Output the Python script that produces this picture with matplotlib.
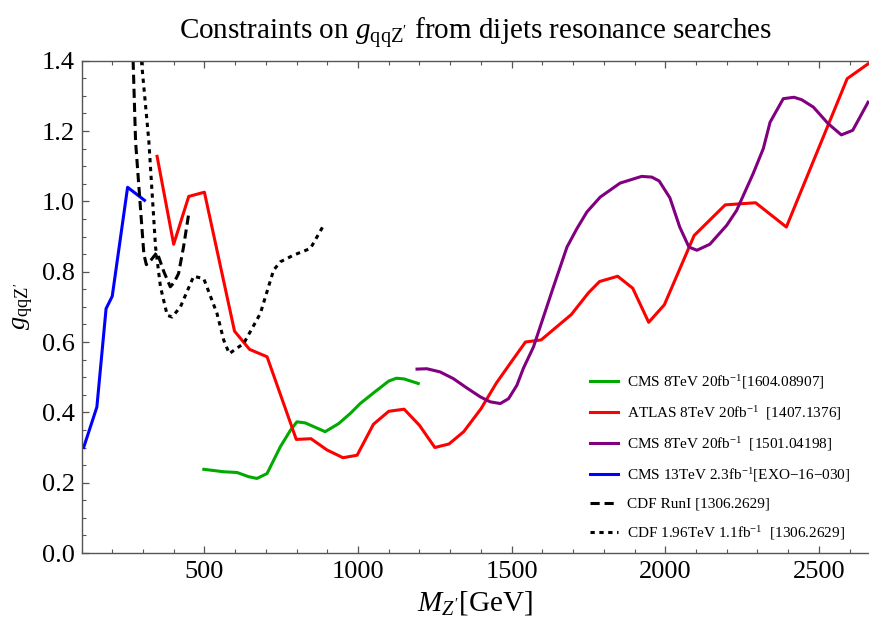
import matplotlib
matplotlib.use("Agg")
import matplotlib.pyplot as plt
from matplotlib.ticker import MultipleLocator, FormatStrFormatter

plt.rcParams['font.family'] = ['Liberation Serif', 'DejaVu Serif']
plt.rcParams['mathtext.fontset'] = 'custom'
plt.rcParams['mathtext.rm'] = 'Liberation Serif'
plt.rcParams['mathtext.it'] = 'Liberation Serif:italic'
plt.rcParams['mathtext.bf'] = 'Liberation Serif:bold'

# ---- data ----
cms8_1604_x = [498, 563, 606, 644, 671, 704, 747, 780, 801, 828, 893, 937, 975, 1007, 1050, 1100, 1125, 1150, 1196]
cms8_1604_y = [0.238, 0.231, 0.229, 0.217, 0.212, 0.226, 0.302, 0.349, 0.373, 0.370, 0.345, 0.368, 0.397, 0.425, 0.455, 0.489, 0.497, 0.495, 0.482]

atlas_x = [346, 400, 449, 500, 598, 647, 704, 799, 847, 899, 951, 997, 1050, 1100, 1150, 1200, 1250, 1296, 1344,
           1400, 1450, 1500, 1545, 1596, 1694, 1750, 1786, 1845, 1894, 1946, 1997, 2094, 2195, 2294, 2394, 2592, 2660]
atlas_y = [1.128, 0.878, 1.014, 1.026, 0.631, 0.579, 0.558, 0.323, 0.325, 0.293, 0.271, 0.278, 0.366, 0.403, 0.409,
           0.363, 0.300, 0.310, 0.345, 0.410, 0.483, 0.545, 0.600, 0.606, 0.678, 0.740, 0.772, 0.787, 0.753, 0.656,
           0.706, 0.903, 0.990, 0.996, 0.927, 1.349, 1.391]

cms8_1501_x = [1192, 1224, 1267, 1310, 1353, 1398, 1430, 1463, 1490, 1517, 1538, 1571, 1636, 1680, 1712, 1745, 1788,
               1853, 1923, 1956, 1980, 2015, 2047, 2077, 2103, 2145, 2200, 2232, 2286, 2319, 2341, 2384, 2419, 2444,
               2482, 2530, 2573, 2610, 2660]
cms8_1501_y = [0.523, 0.524, 0.515, 0.496, 0.470, 0.444, 0.430, 0.425, 0.439, 0.477, 0.525, 0.586, 0.757, 0.870,
               0.922, 0.970, 1.012, 1.052, 1.071, 1.069, 1.058, 1.010, 0.927, 0.870, 0.861, 0.878, 0.932, 0.974,
               1.079, 1.150, 1.225, 1.292, 1.296, 1.289, 1.268, 1.221, 1.189, 1.202, 1.282]

cms13_x = [107, 150, 180, 200, 250, 305]
cms13_y = [0.300, 0.415, 0.695, 0.730, 1.040, 1.003]

cdf_run1_x = [264, 268, 276, 292, 303, 311, 328, 346, 368, 389, 402, 416, 432, 449]
cdf_run1_y = [1.52, 1.40, 1.17, 0.98, 0.85, 0.82, 0.835, 0.855, 0.80, 0.757, 0.770, 0.795, 0.870, 0.965]

cdf_196_x = [292, 295, 319, 341, 357, 379, 395, 422, 465, 498, 541, 563, 581, 628, 682, 725, 747, 790, 845, 888]
cdf_196_y = [1.50, 1.40, 1.173, 0.870, 0.757, 0.676, 0.671, 0.700, 0.787, 0.780, 0.681, 0.605, 0.567, 0.596,
             0.681, 0.804, 0.828, 0.847, 0.866, 0.932]

labels = [r"CMS 8TeV 20fb$^{-1}$[1604.08907]",
          r"ATLAS 8TeV 20fb$^{-1}$  [1407.1376]",
          r"CMS 8TeV 20fb$^{-1}$  [1501.04198]",
          r"CMS 13TeV 2.3fb$^{-1}$[EXO−16−030]",
          r"CDF RunI [1306.2629]",
          r"CDF 1.96TeV 1.1fb$^{-1}$  [1306.2629]"]

# ---- figure ----
W, H = 869, 619
fig = plt.figure(figsize=(W / 100, H / 100), dpi=100)
L, R, T, B = 81.5, 869, 60.7, 553
ax = fig.add_axes([L / W, 1 - B / H, (R - L) / W, (B - T) / H])

lw = 2.2
ax.plot(cms8_1604_x, cms8_1604_y, color='#00aa00', lw=lw, label=labels[0])
ax.plot(atlas_x, atlas_y, color='#ff0000', lw=lw, label=labels[1])
ax.plot(cms8_1501_x, cms8_1501_y, color='#800080', lw=lw, label=labels[2])
ax.plot(cms13_x, cms13_y, color='#0000ff', lw=lw, label=labels[3])
ax.plot(cdf_run1_x, cdf_run1_y, color='black', lw=lw, linestyle=(0, (3.0, 1.6)), dash_capstyle='butt', label=labels[4])
ax.plot(cdf_196_x, cdf_196_y, color='black', lw=lw, linestyle=(0, (1.4, 1.5)), dash_capstyle='butt', label=labels[5])

ax.set_xlim(100, 2663)
ax.set_ylim(0, 1.4)

ax.xaxis.set_major_locator(MultipleLocator(500))
ax.xaxis.set_minor_locator(MultipleLocator(100))
ax.yaxis.set_major_locator(MultipleLocator(0.2))
ax.yaxis.set_minor_locator(MultipleLocator(0.05))
ax.yaxis.set_major_formatter(FormatStrFormatter('%.1f'))

spc = '#555555'
for s in ['left', 'bottom', 'top']:
    ax.spines[s].set_color(spc)
    ax.spines[s].set_linewidth(1.0)
ax.spines['right'].set_visible(False)
ax.tick_params(which='both', direction='in', top=True, right=False, color=spc, labelsize=19, labelcolor='black')
ax.tick_params(which='major', length=5, width=0.9, pad=5)
ax.tick_params(which='minor', length=3, width=0.8)
ax.tick_params(axis='x', which='major', pad=6)

ax.set_title(r"Constraints on $g_{\mathrm{qqZ'}}$ from dijets resonance searches", fontsize=21, pad=15)
ax.set_ylabel(r"$g_{\mathrm{qqZ'}}$", fontsize=19, labelpad=4)
ax.set_xlabel(r"$M_{Z'}$[GeV]", fontsize=21, labelpad=4)

leg = ax.legend(loc='upper left', bbox_to_anchor=((590 - L) / (R - L), (B - 373) / (B - T)),
                frameon=False, fontsize=11, handlelength=1.85, handletextpad=0.55,
                labelspacing=0.86, borderpad=0, borderaxespad=0)

fig.savefig("out.png", dpi=100)
